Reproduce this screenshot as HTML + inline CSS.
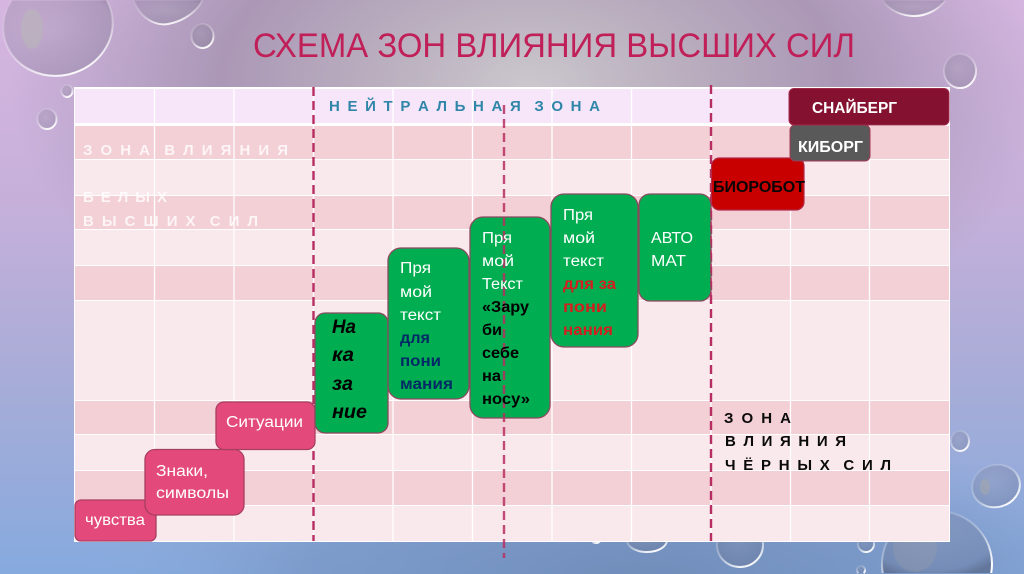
<!DOCTYPE html>
<html lang="ru"><head><meta charset="utf-8"><style>
html,body{margin:0;padding:0;width:1024px;height:574px;overflow:hidden;background:#b0a8c8}
svg{display:block}
text{font-family:"Liberation Sans","Noto Sans CJK SC",sans-serif}
</style></head><body>
<svg width="1024" height="574" viewBox="0 0 1024 574" xmlns="http://www.w3.org/2000/svg">
<defs>
<linearGradient id="bg" x1="0" y1="0" x2="0" y2="1">
<stop offset="0" stop-color="#d6b6e0"/><stop offset=".35" stop-color="#c6b0da"/><stop offset=".7" stop-color="#a4acd8"/><stop offset="1" stop-color="#86aade"/>
</linearGradient>
<radialGradient id="glow" gradientUnits="userSpaceOnUse" cx="0" cy="0" r="1" gradientTransform="translate(530 85) scale(520 300)">
<stop offset="0" stop-color="#cbc7cd"/><stop offset=".25" stop-color="#bcb2c0"/><stop offset=".6" stop-color="#a996b4" stop-opacity=".95"/><stop offset="1" stop-color="#a898b8" stop-opacity="0"/>
</radialGradient>
<radialGradient id="bot" gradientUnits="userSpaceOnUse" cx="0" cy="0" r="1" gradientTransform="translate(640 574) scale(560 150)">
<stop offset="0" stop-color="#6f8ab6" stop-opacity=".9"/><stop offset=".6" stop-color="#7592c0" stop-opacity=".6"/><stop offset="1" stop-color="#8cacdc" stop-opacity="0"/>
</radialGradient>
<radialGradient id="drop" cx=".45" cy=".4" r=".7">
<stop offset="0" stop-color="#8a8a9a" stop-opacity=".22"/><stop offset=".8" stop-color="#5a5a70" stop-opacity=".22"/><stop offset="1" stop-color="#3c3c50" stop-opacity=".4"/>
</radialGradient>
<linearGradient id="rim" x1=".2" y1="0" x2=".7" y2="1">
<stop offset="0" stop-color="#fff" stop-opacity=".1"/><stop offset=".55" stop-color="#fff" stop-opacity=".35"/><stop offset="1" stop-color="#fff" stop-opacity="1"/>
</linearGradient>
</defs>
<rect width="1024" height="574" fill="url(#bg)"/>
<rect width="1024" height="574" fill="url(#glow)"/>
<rect y="420" width="1024" height="154" fill="url(#bot)"/>

<g fill="url(#drop)" stroke="url(#rim)" stroke-width="2">
<path d="M106.700 0.500A55 50 -15 1 1 11.900 0.500"/>
<path d="M134 0.500C140 18 155 26 168 24C185 21 198 10 202 0.500"/>
<path d="M883 0.500C890 12 905 16 914 16C928 16 940 8 945 0.500"/>
<ellipse cx="202.500" cy="36" rx="11" ry="12"/>
<ellipse cx="67" cy="91" rx="5.500" ry="6"/>
<ellipse cx="47" cy="119" rx="9.500" ry="10"/>
<ellipse cx="960" cy="71" rx="16" ry="17"/>
<ellipse cx="960" cy="441" rx="9" ry="10"/>
<ellipse cx="996" cy="486" rx="24" ry="21" transform="rotate(-15 996 486)"/>
<path d="M882.800 573A55 53 0 1 1 991.200 573"/>
<ellipse cx="740" cy="545" rx="23" ry="22"/>
<ellipse cx="647" cy="540" rx="20" ry="12"/>
<ellipse cx="596" cy="538" rx="5" ry="5"/>
<ellipse cx="866" cy="544" rx="8" ry="8"/>
<path d="M858.400 573A4 4 0 1 1 863.600 573"/>
</g>
<ellipse cx="32" cy="29" rx="11" ry="20" fill="#b8bcb4" opacity=".45"/>
<ellipse cx="985" cy="487" rx="5" ry="8" fill="#a8a8a8" opacity=".5"/>
<ellipse cx="915" cy="548" rx="22" ry="24" fill="#a0a0a8" opacity=".3"/>

<text x="253" y="57" font-size="34" fill="#c01f58" textLength="602" lengthAdjust="spacingAndGlyphs">СХЕМА ЗОН ВЛИЯНИЯ ВЫСШИХ СИЛ</text>

<!-- table -->
<rect x="74" y="87" width="876" height="455" fill="#fff"/>
<rect x="75" y="89" width="874" height="34" fill="#f7e6f9"/>
<g fill="#f3cfd6">
<rect x="75" y="126" width="874" height="33"/>
<rect x="75" y="196" width="874" height="33"/>
<rect x="75" y="266" width="874" height="34"/>
<rect x="75" y="401" width="874" height="33"/>
<rect x="75" y="471" width="874" height="34"/>
</g>
<g fill="#f9e8ec">
<rect x="75" y="160" width="874" height="35"/>
<rect x="75" y="230" width="874" height="35"/>
<rect x="75" y="301" width="874" height="99"/>
<rect x="75" y="435" width="874" height="35"/>
<rect x="75" y="506" width="874" height="35"/>
</g>
<path stroke="#fff" stroke-width="1.300" d="M154.500 88V541M234 88V541M313.500 88V541M393 88V541M472.500 88V541M552 88V541M631.500 88V541M711 88V541M790.500 88V541M869.500 88V541"/>

<!-- labels -->
<g font-size="15" font-weight="700" fill="#fff" fill-opacity=".78">
<text x="83" y="155" textLength="205" lengthAdjust="spacing">З О Н А&#160;&#160;В Л И Я Н И Я</text>
<text x="83" y="202" textLength="84" lengthAdjust="spacing">Б Е Л Ы Х</text>
<text x="83" y="226" textLength="175" lengthAdjust="spacing">В Ы С Ш И Х&#160;&#160;С И Л</text>
</g>
<text x="329" y="111" font-size="15" font-weight="700" fill="#2f86a8" textLength="271" lengthAdjust="spacing">Н Е Й Т Р А Л Ь Н А Я&#160;&#160;З О Н А</text>
<g font-size="15" font-weight="700" fill="#0a0a0a">
<text x="724" y="423" textLength="67" lengthAdjust="spacing">З О Н А</text>
<text x="725" y="446" textLength="121" lengthAdjust="spacing">В Л И Я Н И Я</text>
<text x="725" y="470" textLength="166" lengthAdjust="spacing">Ч Ё Р Н Ы Х&#160;&#160;С И Л</text>
</g>

<!-- dashed lines under boxes -->
<g stroke="#b72f62" stroke-width="2.400" fill="none" stroke-dasharray="9 5">
<path d="M313.500 87V541"/>
<path d="M711 85V541"/>
</g>

<!-- pink boxes -->
<g fill="#e34a7b" stroke="#a83e62" stroke-width="1.300">
<rect x="75" y="500" width="81" height="41" rx="6"/>
<rect x="145" y="449.500" width="99" height="65.500" rx="10"/>
<rect x="216" y="402" width="99" height="47.500" rx="8"/>
</g>
<g fill="#fff" font-size="15.500">
<text x="85" y="525" textLength="60" lengthAdjust="spacingAndGlyphs">чувства</text>
<text x="156" y="476" textLength="52" lengthAdjust="spacingAndGlyphs">Знаки,</text>
<text x="156" y="498" textLength="73" lengthAdjust="spacingAndGlyphs">символы</text>
<text x="226" y="427" textLength="77" lengthAdjust="spacingAndGlyphs">Ситуации</text>
</g>

<!-- green boxes -->
<g fill="#00ad50" stroke="#8a4a60" stroke-width="1.300">
<rect x="315" y="313" width="73" height="120" rx="10"/>
<rect x="388" y="248" width="81" height="151" rx="13"/>
<rect x="470" y="217" width="80" height="201" rx="13"/>
<rect x="551" y="194" width="87" height="153" rx="13"/>
<rect x="639" y="194" width="72" height="107" rx="11"/>
</g>
<path d="M504 105V558" stroke="#b72f62" stroke-width="2.400" fill="none" stroke-dasharray="9 5" stroke-opacity=".85"/>
<path d="M711 194V301" stroke="#b72f62" stroke-width="1.500" stroke-dasharray="9 5" fill="none"/>

<!-- top-right boxes -->
<rect x="711.500" y="158" width="92.500" height="52" rx="8" fill="#c80000" stroke="#b02a4a" stroke-width="1.200"/>
<rect x="790" y="125" width="80" height="36" rx="5" fill="#595959" stroke="#a03a55" stroke-width="1"/>
<rect x="789" y="88.500" width="160" height="36.500" rx="5" fill="#84112f" stroke="#a02a4c" stroke-width="1"/>
<text x="812" y="113" font-size="15.500" font-weight="700" fill="#fff" textLength="85" lengthAdjust="spacingAndGlyphs">СНАЙБЕРГ</text>
<text x="798" y="152" font-size="15.500" font-weight="700" fill="#fff" textLength="65" lengthAdjust="spacingAndGlyphs">КИБОРГ</text>
<text x="713" y="192" font-size="15.500" font-weight="700" fill="#0a0505" textLength="92" lengthAdjust="spacingAndGlyphs">БИОРОБОТ</text>

<!-- green box text -->
<g font-size="19.500" font-weight="700" font-style="italic" fill="#000">
<text x="332" y="333" textLength="24" lengthAdjust="spacingAndGlyphs">На</text>
<text x="332" y="361" textLength="22" lengthAdjust="spacingAndGlyphs">ка</text>
<text x="332" y="390" textLength="21" lengthAdjust="spacingAndGlyphs">за</text>
<text x="332" y="418" textLength="35" lengthAdjust="spacingAndGlyphs">ние</text>
</g>
<g font-size="15.500" fill="#fff">
<text x="400" y="273" textLength="31" lengthAdjust="spacingAndGlyphs">Пря</text>
<text x="400" y="297" textLength="32" lengthAdjust="spacingAndGlyphs">мой</text>
<text x="400" y="320" textLength="41" lengthAdjust="spacingAndGlyphs">текст</text>
<text x="482" y="243" textLength="30" lengthAdjust="spacingAndGlyphs">Пря</text>
<text x="482" y="266" textLength="32" lengthAdjust="spacingAndGlyphs">мой</text>
<text x="482" y="289" textLength="41" lengthAdjust="spacingAndGlyphs">Текст</text>
<text x="563" y="220" textLength="30" lengthAdjust="spacingAndGlyphs">Пря</text>
<text x="563" y="243" textLength="32" lengthAdjust="spacingAndGlyphs">мой</text>
<text x="563" y="266" textLength="41" lengthAdjust="spacingAndGlyphs">текст</text>
<text x="651" y="243" textLength="42" lengthAdjust="spacingAndGlyphs">АВТО</text>
<text x="651" y="266" textLength="35" lengthAdjust="spacingAndGlyphs">МАТ</text>
</g>
<g font-size="15.500" font-weight="700" fill="#002a66">
<text x="400" y="343" textLength="30" lengthAdjust="spacingAndGlyphs">для</text>
<text x="400" y="366" textLength="41" lengthAdjust="spacingAndGlyphs">пони</text>
<text x="400" y="389" textLength="53" lengthAdjust="spacingAndGlyphs">мания</text>
</g>
<g font-size="15.500" font-weight="700" fill="#000">
<text x="482" y="312" textLength="47" lengthAdjust="spacingAndGlyphs">«Зару</text>
<text x="482" y="335" textLength="20" lengthAdjust="spacingAndGlyphs">би</text>
<text x="482" y="358" textLength="37" lengthAdjust="spacingAndGlyphs">себе</text>
<text x="482" y="381" textLength="19" lengthAdjust="spacingAndGlyphs">на</text>
<text x="482" y="404" textLength="48" lengthAdjust="spacingAndGlyphs">носу»</text>
</g>
<g font-size="15.500" font-weight="700" fill="#d41f1f">
<text x="563" y="289" textLength="53" lengthAdjust="spacingAndGlyphs">для за</text>
<text x="563" y="312" textLength="44" lengthAdjust="spacingAndGlyphs">пони</text>
<text x="563" y="335" textLength="50" lengthAdjust="spacingAndGlyphs">нания</text>
</g>
</svg>
</body></html>
